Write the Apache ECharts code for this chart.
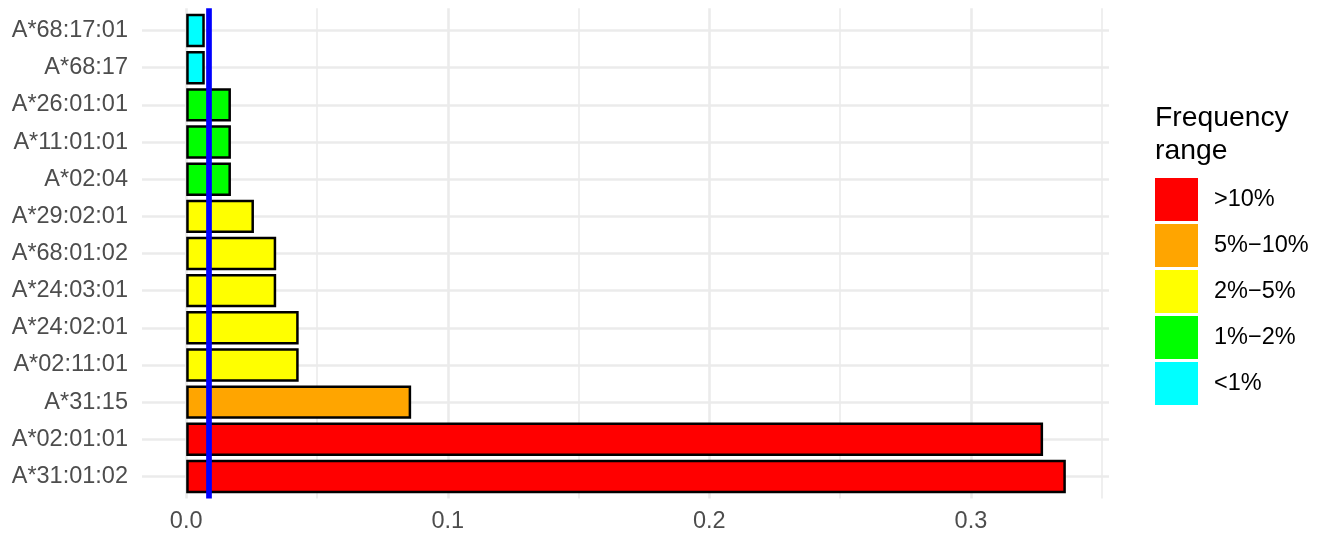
<!DOCTYPE html>
<html>
<head>
<meta charset="utf-8">
<script src="https://cdn.jsdelivr.net/npm/echarts@6/dist/echarts.min.js"></script>
<style>
  html, body { margin: 0; padding: 0; background: #fff; }
  #chart { width: 1324px; height: 535px; }
</style>
</head>
<body>
<div id="chart"></div>
<script type="text/javascript">
// alleles, bottom to top
var alleles = ['A*31:01:02', 'A*02:01:01', 'A*31:15', 'A*02:11:01', 'A*24:02:01', 'A*24:03:01',
               'A*68:01:02', 'A*29:02:01', 'A*02:04', 'A*11:01:01', 'A*26:01:01', 'A*68:17', 'A*68:17:01'];
var frequencies = [0.3363, 0.3276, 0.0860, 0.0430, 0.0430, 0.0344, 0.0344, 0.0259, 0.0171, 0.0171, 0.0171, 0.0071, 0.0071];
var rangeNames = ['>10%', '5%\u221210%', '2%\u22125%', '1%\u22122%', '<1%'];
var rangeLower = [0.10, 0.05, 0.02, 0.01, 0];
var rangeColors = ['#FF0000', '#FFA500', '#FFFF00', '#00FF00', '#00FFFF'];
var cutoff = 0.0086;
var majorTicks = [0, 0.1, 0.2, 0.3];
var minorTicks = [0.05, 0.15, 0.25, 0.35];

var xMin = -0.0169, xMax = 0.3528;
var font = 'Liberation Sans, Arial, sans-serif';

function rangeIndex(v) {
  for (var i = 0; i < rangeLower.length; i++) {
    if (v >= rangeLower[i]) return i;
  }
  return rangeLower.length - 1;
}

var series = [];
for (var r = 0; r < rangeNames.length; r++) {
  var d = [];
  for (var i = 0; i < frequencies.length; i++) {
    d.push(rangeIndex(frequencies[i]) === r ? frequencies[i] : '-');
  }
  series.push({
    name: rangeNames[r],
    type: 'bar',
    xAxisIndex: 0,
    yAxisIndex: 0,
    data: d,
    barWidth: '90%',
    barGap: '-100%',
    itemStyle: { color: rangeColors[r], borderColor: '#000', borderWidth: 2.5 },
    z: 3
  });
}
// reference line over the whole panel
series.push({
  name: 'cutoff',
  type: 'line',
  xAxisIndex: 1,
  yAxisIndex: 1,
  data: [],
  z: 10,
  markLine: {
    symbol: 'none',
    silent: true,
    animation: false,
    precision: 5,
    label: { show: false },
    lineStyle: { color: '#0000FF', width: 5.7, type: 'solid' },
    data: [{ xAxis: cutoff }]
  }
});

var option = {
  animation: false,
  textStyle: { fontFamily: font },
  title: {
    text: 'Frequency\nrange',
    left: 1155,
    top: 102,
    padding: 0,
    textStyle: { fontFamily: font, fontSize: 28.3, fontWeight: 'normal', color: '#000', lineHeight: 33 }
  },
  legend: {
    orient: 'vertical',
    left: 1155,
    top: 178,
    padding: 0,
    itemWidth: 43,
    itemHeight: 43,
    itemGap: 3,
    icon: 'rect',
    selectedMode: false,
    data: rangeNames,
    itemStyle: { borderWidth: 0 },
    textStyle: { fontFamily: font, fontSize: 23.5, color: '#000', padding: [0, 0, 0, 11] }
  },
  grid: [
    { left: 142, right: 215, top: 12, bottom: 40 },
    { left: 142, right: 215, top: 8.2, bottom: 36.4 }
  ],
  xAxis: [
    { type: 'value', gridIndex: 0, min: xMin, max: xMax, show: false },
    {
      type: 'value', gridIndex: 1, min: xMin, max: xMax,
      axisLine: { show: false },
      axisTick: { show: false, customValues: majorTicks },
      axisLabel: {
        customValues: majorTicks, margin: 11,
        fontFamily: font, fontSize: 23.5, color: '#4D4D4D',
        formatter: function (v) { return v.toFixed(1); }
      },
      splitLine: { show: true, lineStyle: { color: '#EBEBEB', width: 2.6 } }
    },
    {
      type: 'value', gridIndex: 1, min: xMin, max: xMax, position: 'top',
      axisLine: { show: false },
      axisTick: { show: false, customValues: minorTicks },
      axisLabel: { show: false, customValues: minorTicks },
      splitLine: { show: true, lineStyle: { color: '#EBEBEB', width: 1.6 } }
    }
  ],
  yAxis: [
    {
      type: 'category', gridIndex: 0, data: alleles,
      axisLine: { show: false, onZero: false },
      axisTick: { show: true, inside: true, alignWithLabel: true, length: 967, lineStyle: { color: '#EBEBEB', width: 2.6 } },
      axisLabel: { margin: 14, fontFamily: font, fontSize: 23.5, color: '#4D4D4D' },
      splitLine: { show: false }
    },
    { type: 'value', gridIndex: 1, min: 0, max: 1, show: false }
  ],
  series: series
};

var myChart = echarts.init(document.getElementById('chart'));
myChart.setOption(option);
</script>
</body>
</html>
